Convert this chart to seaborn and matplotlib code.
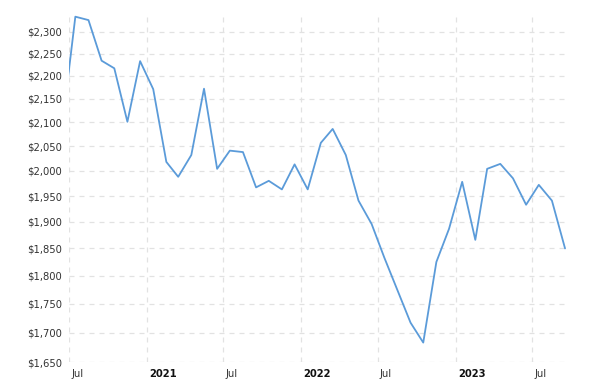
import matplotlib
matplotlib.use("Agg")
import matplotlib.pyplot as plt
import matplotlib.dates as mdates
import matplotlib.ticker as mticker
from matplotlib.transforms import ScaledTranslation
import seaborn as sns
import pandas as pd
import numpy as np

# ---- data (inflation-adjusted monthly gold price) ----
months = [
    "2020-06", "2020-07", "2020-08", "2020-09", "2020-10", "2020-11", "2020-12",
    "2021-01", "2021-02", "2021-03", "2021-04", "2021-05", "2021-06", "2021-07",
    "2021-08", "2021-09", "2021-10", "2021-11", "2021-12",
    "2022-01", "2022-02", "2022-03", "2022-04", "2022-05", "2022-06", "2022-07",
    "2022-08", "2022-09", "2022-10", "2022-11", "2022-12",
    "2023-01", "2023-02", "2023-03", "2023-04", "2023-05", "2023-06", "2023-07",
    "2023-08", "2023-09",
]
prices = [
    2100, 2335, 2327, 2234, 2217, 2101, 2233,
    2171, 2018, 1988, 2032, 2172, 2004, 2041,
    2038, 1967, 1980, 1963, 2013,
    1963, 2057, 2086, 2032, 1941, 1896, 1833,
    1774, 1717, 1683, 1825, 1887,
    1978, 1866, 2004, 2014, 1985, 1933, 1972,
    1941, 1850,
]
y_ticks = [1650, 1700, 1750, 1800, 1850, 1900, 1950, 2000,
           2050, 2100, 2150, 2200, 2250, 2300]
x_tick_dates = ["2020-07-01", "2021-01-01", "2021-07-01", "2022-01-01",
                "2022-07-01", "2023-01-01", "2023-07-01"]
x_tick_labels = ["Jul", "2021", "Jul", "2022", "Jul", "2023", "Jul"]
x_range = ["2020-07-01", "2023-09-23"]
y_range = [1650, 2346]

df = pd.DataFrame({
    "date": pd.to_datetime([m + "-16" for m in months]),
    "price": prices,
})

sns.set_style("white")
plt.rcParams["font.family"] = ["DejaVu Sans"]

fig = plt.figure(figsize=(6.04, 3.81), dpi=100)
ax = fig.add_axes([69 / 604, 1 - 362.3 / 381, (568 - 69) / 604, (362.3 - 12) / 381])

sns.lineplot(data=df, x="date", y="price", ax=ax, color="#5b9bd9",
             linewidth=1.3, clip_on=True)

ax.set_yscale("log")
ax.set_ylim(*y_range)
ax.yaxis.set_major_locator(mticker.FixedLocator(y_ticks))
ax.yaxis.set_minor_locator(mticker.NullLocator())
ax.yaxis.set_major_formatter(mticker.FuncFormatter(lambda v, p: f"${v:,.0f}"))

xt = pd.to_datetime(x_tick_dates)
ax.set_xlim(pd.to_datetime(x_range[0]), pd.to_datetime(x_range[1]))
ax.set_xticks(xt)
ax.set_xticklabels(x_tick_labels)
ax.xaxis.set_minor_locator(mticker.NullLocator())

ax.set_xlabel("")
ax.set_ylabel("")

ax.grid(True, which="major", axis="both", color="#e2e2e2",
        linestyle=(0, (4, 4)), linewidth=0.9)
for s in ax.spines.values():
    s.set_visible(False)

ax.tick_params(axis="both", length=0, labelsize=7.2, colors="#333333")
ax.tick_params(axis="y", pad=5)
ax.tick_params(axis="x", pad=4.5)

offset = ScaledTranslation(2 / 100, 0, fig.dpi_scale_trans)
for lab in ax.get_xticklabels():
    lab.set_horizontalalignment("left")
    lab.set_transform(lab.get_transform() + offset)
    if lab.get_text().isdigit():
        lab.set_fontweight("bold")
        lab.set_color("#111111")

fig.savefig("out.png", dpi=100)
